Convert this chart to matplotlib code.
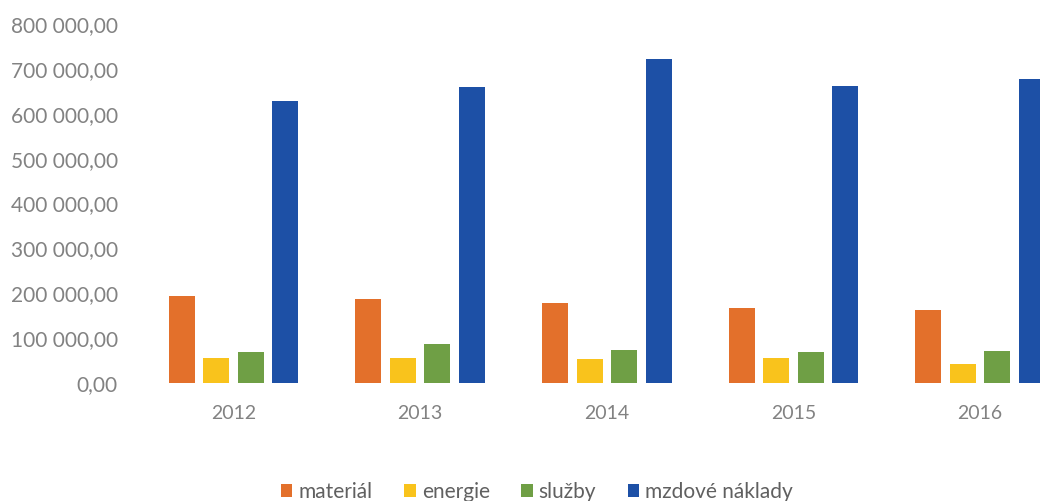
import matplotlib
matplotlib.use("Agg")
import matplotlib.pyplot as plt
import numpy as np

years = ["2012", "2013", "2014", "2015", "2016"]
series_names = ["materiál", "energie", "služby", "mzdové náklady"]
material = [193000, 187000, 178000, 167000, 162000]
energie = [56000, 56000, 54000, 56000, 42000]
sluzby = [70000, 87000, 73000, 69000, 72000]
mzdove = [629000, 660000, 722000, 662000, 678000]
yticks = [0, 100000, 200000, 300000, 400000, 500000, 600000, 700000, 800000]

colors = ["#E3702B", "#F9C31C", "#6F9F45", "#1D50A6"]

plt.rcParams['font.family'] = ['Lato', 'DejaVu Sans']

W, H = 1040, 501
fig = plt.figure(figsize=(W / 100, H / 100), dpi=100)
left_px, right_px = 140, 1040
zero_px, top_px = 383, 24
ax = fig.add_axes([left_px / W, (H - zero_px) / H, (right_px - left_px) / W, (zero_px - top_px) / H])

cat_w = 186.7
x = np.arange(len(years))
step = 34.5 / cat_w
bw = 26 / cat_w
data = [material, energie, sluzby, mzdove]
for i, (name, vals, c) in enumerate(zip(series_names, data, colors)):
    ax.bar(x + (i - 1.5) * step, vals, width=bw, color=c, label=name)

ax.set_xlim(-0.5, -0.5 + (right_px - left_px) / cat_w)
ax.set_ylim(0, 800000)
ax.set_yticks(yticks)
ax.set_yticklabels([f"{v:,.2f}".replace(",", " ").replace(".", ",") for v in yticks])
ax.set_xticks(x)
ax.set_xticklabels(years)
ax.tick_params(axis='y', length=0, labelsize=15, colors="#828282", pad=16)
ax.tick_params(axis='x', length=0, labelsize=14, colors="#828282", pad=16)
for s in ['top', 'right', 'left', 'bottom']:
    ax.spines[s].set_visible(False)

leg = fig.legend(loc='center', bbox_to_anchor=(537 / W, 1 - 492 / H), ncol=4, frameon=False,
                 fontsize=15, handlelength=0.55, handleheight=0.55, handletextpad=0.3,
                 columnspacing=1.5)
for t in leg.get_texts():
    t.set_color("#606060")

fig.savefig("out.png", dpi=100, facecolor="white")
